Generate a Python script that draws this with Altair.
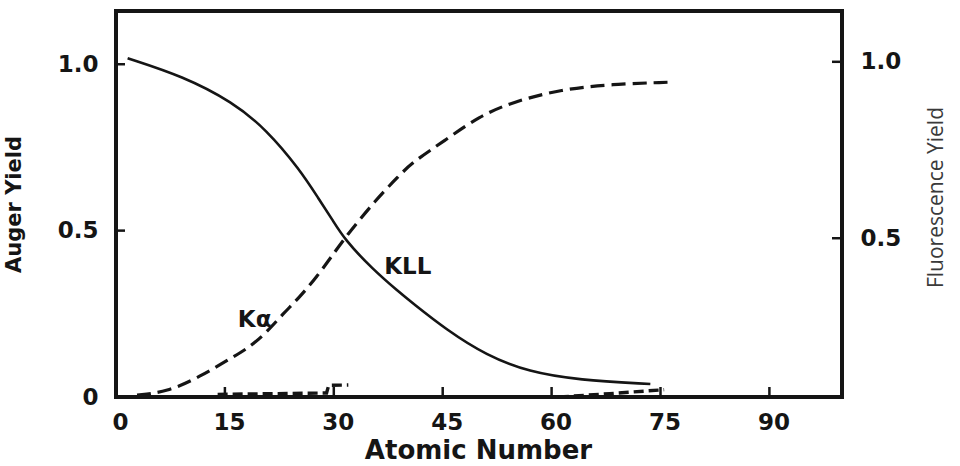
import altair as alt
import pandas as pd

# ---- data ----
kll_z = [1.6, 9.2, 16.1, 20.7, 25.3, 28.0, 29.8, 31.5, 35.3, 39.0, 40.8, 45.5, 51.0, 56.9, 63.7, 73.6]
kll_v = [1.018, 0.964, 0.886, 0.804, 0.684, 0.593, 0.533, 0.473, 0.385, 0.315, 0.283, 0.202, 0.125, 0.075, 0.051, 0.039]

ka_z = [2.9, 7.0, 11.5, 16.1, 18.4, 20.7, 23.0, 25.3, 27.6, 29.8, 31.5, 35.8, 39.0, 40.8, 45.5, 50.0, 54.5, 61.4, 68.3, 76.1]
ka_v = [0.006, 0.015, 0.06, 0.12, 0.15, 0.193, 0.25, 0.30, 0.36, 0.425, 0.478, 0.593, 0.665, 0.705, 0.774, 0.843, 0.886, 0.925, 0.94, 0.946]

l1_z = [14.0, 22.0, 29.0, 29.3, 32.0]
l1_v = [0.008, 0.010, 0.012, 0.035, 0.036]
l2_z = [61.0, 68.0, 75.5]
l2_v = [0.0, 0.010, 0.022]

x_tick_values = [0, 15, 30, 45, 60, 75, 90]
left_tick_values = [0, 0.5, 1.0]
right_tick_values = [0.5, 1.0]

label_text = ["KLL", "K\u03b1"]
label_z = [40.2, 19.1]
label_v = [0.39, 0.232]

# ---- layout ----
W, H = 726, 386
FONT = "DejaVu Sans"
INK = "#151515"

xs = alt.Scale(domain=[0, 100], nice=False, zero=False)
ys = alt.Scale(domain=[0, 1.16], nice=False, zero=False)
ys_right = alt.Scale(domain=[0.05, 1.144], nice=False, zero=False)

kll_df = pd.DataFrame({"Z": kll_z, "v": kll_v})
ka_df = pd.DataFrame({"Z": ka_z, "v": ka_v})
l_df = pd.DataFrame({
    "Z": l1_z + l2_z,
    "v": l1_v + l2_v,
    "s": ["L1"] * len(l1_z) + ["L2"] * len(l2_z),
})
xt_df = pd.DataFrame({"t": x_tick_values})
lt_df = pd.DataFrame({"t": [v for v in left_tick_values if v > 0]})
rt_df = pd.DataFrame({"t": right_tick_values})
lab_df = pd.DataFrame({"Z": label_z, "v": label_v, "text": label_text})

xticks = alt.Chart(xt_df).mark_rule(color=INK, strokeWidth=2.5).encode(
    x=alt.X("t:Q", scale=xs, axis=alt.Axis(
        values=x_tick_values, title="Atomic Number", orient="bottom",
        labelFont=FONT, labelFontSize=23, labelFontWeight="bold", labelColor=INK,
        labelPadding=14, labelOffset=4, labelFlush=False, labelOverlap=False,
        titleFont=FONT, titleFontSize=26, titleFontWeight="bold", titleColor=INK,
        titleX=362, titleY=40, titleBaseline="top", titleAlign="center", titleAngle=0,
    )),
    y=alt.value(H - 10),
    y2=alt.value(H),
)

kll = alt.Chart(kll_df).mark_line(color=INK, strokeWidth=2.6, interpolate="basis").encode(
    x=alt.X("Z:Q", scale=xs, axis=None),
    y=alt.Y("v:Q", scale=ys, axis=None),
)

ka = alt.Chart(ka_df).mark_line(color=INK, strokeWidth=3.2, strokeDash=[14, 7], interpolate="basis").encode(
    x=alt.X("Z:Q", scale=xs, axis=None),
    y=alt.Y("v:Q", scale=ys, axis=None),
)

lseg = alt.Chart(l_df).mark_line(color=INK, strokeWidth=3.4, strokeDash=[10, 5]).encode(
    x=alt.X("Z:Q", scale=xs, axis=None),
    y=alt.Y("v:Q", scale=ys, axis=None),
    detail="s:N",
)

lticks = alt.Chart(lt_df).mark_rule(color=INK, strokeWidth=2.5).encode(
    y=alt.Y("t:Q", scale=ys, axis=alt.Axis(
        values=left_tick_values, title="Auger Yield", orient="left",
        labelExpr="datum.value == 0 ? '0' : format(datum.value, '.1f')",
        labelFont=FONT, labelFontSize=23, labelFontWeight="bold", labelColor=INK,
        labelPadding=18, labelFlush=False, labelOverlap=False,
        titleFont=FONT, titleFontSize=21, titleFontWeight="bold", titleColor=INK,
        titleAngle=270, titleX=-92, titleY=193, titleBaseline="bottom", titleAlign="center",
    )),
    x=alt.value(0),
    x2=alt.value(9),
)

rticks = alt.Chart(rt_df).mark_rule(color=INK, strokeWidth=2.5).encode(
    y=alt.Y("t:Q", scale=ys_right, axis=alt.Axis(
        values=right_tick_values, title="Fluorescence Yield", orient="right",
        format=".1f",
        labelFont=FONT, labelFontSize=23, labelFontWeight="bold", labelColor=INK,
        labelPadding=18, labelFlush=False, labelOverlap=False, labelAlign="left",
        titleFont="Open Sans", titleFontSize=21, titleFontWeight="normal", titleColor="#3a3a3a",
        titleAngle=270, titleX=104, titleY=186, titleBaseline="bottom", titleAlign="center",
    )),
    x=alt.value(W - 10),
    x2=alt.value(W),
)

labels = alt.Chart(lab_df).mark_text(
    font=FONT, fontSize=23, fontWeight="bold", color=INK, align="center", baseline="middle"
).encode(
    x=alt.X("Z:Q", scale=xs, axis=None),
    y=alt.Y("v:Q", scale=ys, axis=None),
    text="text:N",
)

chart = alt.layer(xticks, kll, ka, lseg, lticks, rticks, labels).resolve_scale(
    y="independent"
).resolve_axis(
    x="independent"
).properties(
    width=W,
    height=H,
    autosize=alt.AutoSizeParams(type="none"),
    padding={"left": 116, "top": 11, "right": 118, "bottom": 69},
    background="white",
).configure_view(
    stroke=INK, strokeWidth=4
).configure_axis(
    domain=False, ticks=False, tickSize=0, grid=False
)

chart.save("out.html", embed_options={"renderer": "svg", "actions": False})
